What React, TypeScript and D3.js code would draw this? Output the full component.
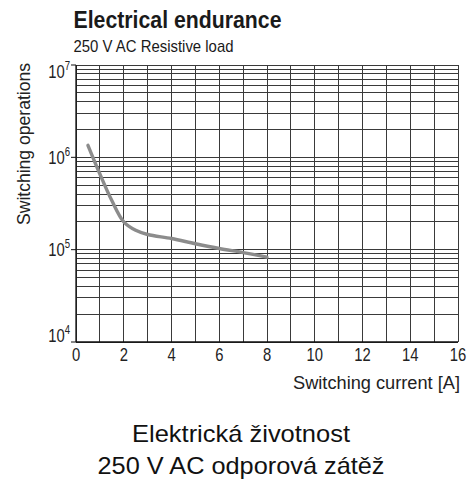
import React, { useEffect, useRef } from "react";
import * as d3 from "d3";

// switching current [A] vs. switching operations
const currents = [0.5, 1, 1.5, 2, 2.5, 3, 4, 5, 6, 7, 8];
const operations = [1.35e6, 6.6e5, 3.4e5, 2.0e5, 1.62e5, 1.46e5, 1.32e5, 1.16e5, 1.03e5, 9.3e4, 8.3e4];

const xTicks = [0, 2, 4, 6, 8, 10, 12, 14, 16];
const yDecades = [4, 5, 6, 7];

const sans = "'Liberation Sans', Arial, sans-serif";
const squeeze = 0.8; // no condensed face installed, so narrow the regular one

const App = () => {
  const svgRef = useRef<SVGSVGElement | null>(null);

  useEffect(() => {
    const svg = d3.select(svgRef.current);
    svg.selectAll("*").remove();

    const width = 475;
    const height = 481;
    svg.attr("width", width).attr("height", height);

    const x = d3.scaleLinear().domain([0, 16]).range([76, 458]);
    const y = d3.scaleLog().domain([1e4, 1e7]).range([342, 65]);

    const grid = svg.append("g").attr("stroke", "#3a3a3a").attr("stroke-width", 1).attr("shape-rendering", "crispEdges");

    // vertical gridlines every 1 A
    d3.range(0, 17).forEach((v) => {
      grid.append("line")
        .attr("x1", x(v)).attr("x2", x(v))
        .attr("y1", y(1e7)).attr("y2", y(1e4));
    });

    // log gridlines
    const yLines: number[] = [];
    for (let e = 4; e < 7; e++) {
      for (let m = 1; m <= 9; m++) yLines.push(m * Math.pow(10, e));
    }
    yLines.push(1e7);
    yLines.forEach((v) => {
      grid.append("line")
        .attr("x1", x(0)).attr("x2", x(16))
        .attr("y1", y(v)).attr("y2", y(v));
    });

    // axes
    svg.append("line")
      .attr("x1", x(0)).attr("x2", x(0)).attr("y1", y(1e7)).attr("y2", y(1e4))
      .attr("stroke", "#111").attr("stroke-width", 1.3);
    svg.append("line")
      .attr("x1", x(0)).attr("x2", x(16)).attr("y1", y(1e4)).attr("y2", y(1e4))
      .attr("stroke", "#111").attr("stroke-width", 1.3);

    // y ticks: bottom label sits on the axis, top one hangs below the frame
    yDecades.forEach((e) => {
      const yy = y(Math.pow(10, e));
      const shift = e === 4 ? 0 : e === 7 ? 13 : 6.5;
      svg.append("line")
        .attr("x1", x(0) - 5).attr("x2", x(0)).attr("y1", yy).attr("y2", yy)
        .attr("stroke", "#111");
      const t = svg.append("text")
        .attr("transform", `translate(${x(0) - 6}, ${yy + shift}) scale(${squeeze}, 1)`)
        .attr("text-anchor", "end")
        .attr("font-family", sans)
        .attr("font-size", 18.5)
        .attr("fill", "#222");
      t.append("tspan").text("10");
      t.append("tspan").attr("font-size", 12).attr("dy", -8).text(String(e));
    });

    // x ticks
    xTicks.forEach((v) => {
      svg.append("text")
        .attr("transform", `translate(${x(v)}, 360.5) scale(${squeeze}, 1)`)
        .attr("text-anchor", "middle")
        .attr("font-family", sans)
        .attr("font-size", 18.5)
        .attr("fill", "#222")
        .text(v);
    });

    // curve
    const line = d3.line<number>()
      .x((d, i) => x(currents[i]))
      .y((d) => y(d))
      .curve(d3.curveCatmullRom.alpha(0.5));
    svg.append("path")
      .attr("d", line(operations))
      .attr("fill", "none")
      .attr("stroke", "#8c8c8c")
      .attr("stroke-width", 3.4)
      .attr("stroke-linecap", "round");

    // titles
    svg.append("text")
      .attr("x", 73.5).attr("y", 28)
      .attr("font-family", sans)
      .attr("font-weight", "bold")
      .attr("font-size", 23.5)
      .attr("textLength", 208)
      .attr("lengthAdjust", "spacingAndGlyphs")
      .attr("fill", "#1a1a1a")
      .text("Electrical endurance");
    svg.append("text")
      .attr("x", 73.5).attr("y", 52)
      .attr("font-family", sans)
      .attr("font-size", 17)
      .attr("textLength", 160)
      .attr("lengthAdjust", "spacingAndGlyphs")
      .attr("fill", "#1a1a1a")
      .text("250 V AC Resistive load");

    svg.append("text")
      .attr("transform", "translate(30, 225) rotate(-90)")
      .attr("font-family", sans)
      .attr("font-size", 18)
      .attr("textLength", 162)
      .attr("lengthAdjust", "spacingAndGlyphs")
      .attr("fill", "#222")
      .text("Switching operations");

    svg.append("text")
      .attr("x", 293).attr("y", 388.5)
      .attr("font-family", sans)
      .attr("font-size", 18)
      .attr("textLength", 167)
      .attr("lengthAdjust", "spacingAndGlyphs")
      .attr("fill", "#222")
      .text("Switching current [A]");

    svg.append("text")
      .attr("x", 241).attr("y", 442)
      .attr("text-anchor", "middle")
      .attr("font-family", sans)
      .attr("font-size", 24)
      .attr("textLength", 218)
      .attr("lengthAdjust", "spacingAndGlyphs")
      .attr("fill", "#111")
      .text("Elektrická životnost");
    svg.append("text")
      .attr("x", 241).attr("y", 473.5)
      .attr("text-anchor", "middle")
      .attr("font-family", sans)
      .attr("font-size", 24)
      .attr("textLength", 287)
      .attr("lengthAdjust", "spacingAndGlyphs")
      .attr("fill", "#111")
      .text("250 V AC odporová zátěž");
  }, []);

  return (
    <div style={{ position: "absolute", left: 0, top: 0 }}>
      <svg ref={svgRef} style={{ display: "block", background: "#fff" }}></svg>
    </div>
  );
};

export default App;
